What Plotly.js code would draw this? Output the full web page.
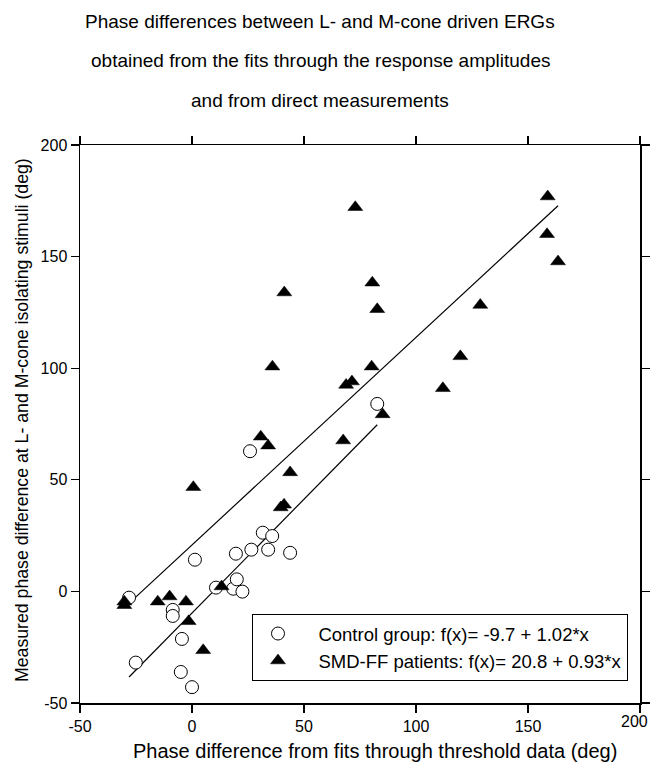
<!DOCTYPE html>
<html>
<head>
<meta charset="utf-8">
<script src="https://cdn.plot.ly/plotly-3.0.1.min.js"></script>
<style>
  html, body { margin: 0; padding: 0; background: #fff; }
  #chart { width: 651px; height: 769px; }
</style>
</head>
<body>
<div id="chart"></div>
<script>
// Control group: phase difference from threshold fits (x) vs. measured (y), deg
const controlX = [-28.1, -25.1, -8.6, -8.6, -4.5, -5.0, 0.0, 1.3, 10.7, 18.4,
                  20.0, 22.5, 19.6, 26.5, 25.9, 31.6, 34.0, 35.8, 43.8, 82.7];
const controlY = [-2.8, -31.9, -8.3, -11.0, -21.3, -36.1, -42.9, 14.2, 1.7, 1.2,
                  5.4, -0.1, 16.9, 18.7, 62.8, 26.3, 18.7, 24.8, 17.3, 84.0];

// SMD-FF patients
const patientX = [-30.2, -30.2, -15.3, -10.0, -2.7, -1.5, 5.0, 0.6, 13.2, 30.7,
                  34.0, 39.6, 41.1, 43.8, 35.9, 41.2, 67.5, 68.8, 71.4, 72.9,
                  80.2, 80.5, 82.7, 85.1, 112.0, 119.8, 128.7, 158.8, 158.5, 163.4];
const patientY = [-4.6, -6.2, -4.6, -2.3, -4.6, -13.4, -26.4, 46.7, 2.2, 69.3,
                  65.3, 37.6, 38.8, 53.3, 100.7, 133.9, 67.6, 92.5, 94.0, 172.1,
                  100.7, 138.3, 126.4, 79.3, 91.0, 105.3, 128.3, 176.9, 160.0, 147.8];

// Linear fits f(x) = a + b*x
const groupNames   = ['Control group', 'SMD-FF patients'];
const fitIntercept = [-9.7, 20.8];
const fitSlope     = [1.02, 0.93];

// Axis ticks
const xTicks = [-50, 0, 50, 100, 150, 200];
const yTicks = [-50, 0, 50, 100, 150, 200];

const NBSP = '\u00a0';

function fitLine(xs, a, b) {
  const lo = Math.min(...xs), hi = Math.max(...xs);
  return { x: [lo, hi], y: [a + b * lo, a + b * hi] };
}

const lineCtrl = fitLine(controlX, fitIntercept[0], fitSlope[0]);
const linePat  = fitLine(patientX, fitIntercept[1], fitSlope[1]);

// legend entry text, with a small gap after the symbol
function label(i) {
  return NBSP.repeat(3) + groupNames[i] + ': f(x)= ' + fitIntercept[i].toFixed(1) +
         ' + ' + fitSlope[i].toFixed(2) + '*x';
}

const FONT = 'Liberation Sans, Arial, Helvetica, sans-serif';
const TICK_SIZE = 16;

const traces = [
  { x: lineCtrl.x, y: lineCtrl.y, mode: 'lines', showlegend: false,
    line: { color: '#000', width: 1.2 }, hoverinfo: 'skip' },
  { x: linePat.x, y: linePat.y, mode: 'lines', showlegend: false,
    line: { color: '#000', width: 1.2 }, hoverinfo: 'skip' },
  { x: controlX, y: controlY, mode: 'markers', name: label(0),
    marker: { symbol: 'circle', size: 13, color: '#fff',
              line: { color: '#000', width: 1 } } },
  { x: patientX, y: patientY, mode: 'markers', name: label(1),
    marker: { symbol: 'triangle-up', size: 13, color: '#000',
              line: { color: '#000', width: 0.5 } } }
];

const axisCommon = {
  showgrid: false, zeroline: false,
  showline: true, linecolor: '#000', linewidth: 1.5,
  mirror: 'ticks', ticks: 'outside', ticklen: 8, tickwidth: 1.2,
  tickcolor: '#000', tickfont: { family: FONT, size: TICK_SIZE, color: '#000' },
  tickmode: 'array'
};

// Plot area spans 80..640 px horizontally and 145..703 px vertically
const L = 80, T = 145, W = 560, H = 558;
const px = v => (v - L) / W;
const py = v => (T + H - v) / H;

const titleLines = [
  'Phase differences between L- and M-cone driven ERGs',
  'obtained from the fits through the response amplitudes',
  'and from direct measurements'
];
const titleY = [22, 61, 100];

const annotations = titleLines.map((t, i) => ({
  text: t, xref: 'paper', yref: 'paper', x: px(320), y: py(titleY[i]),
  xanchor: 'center', yanchor: 'middle', showarrow: false,
  font: { family: FONT, size: 19, color: '#000' }
}));

annotations.push({
  text: 'Phase difference from fits through threshold data (deg)',
  xref: 'paper', yref: 'paper', x: px(375), y: py(751),
  xanchor: 'center', yanchor: 'middle', showarrow: false,
  font: { family: FONT, size: 20, color: '#000' }
});
annotations.push({
  text: 'Measured phase difference at L- and M-cone isolating stimuli (deg)',
  xref: 'paper', yref: 'paper', x: px(22), y: py(420), textangle: -90,
  xanchor: 'center', yanchor: 'middle', showarrow: false,
  font: { family: FONT, size: 17.7, color: '#000' }
});

// the last x label would cross the right edge of the figure,
// so it is right-aligned against the edge instead of centred on its tick
const lastX = xTicks[xTicks.length - 1];
const xTickText = xTicks.map(v => v === lastX ? '' : String(v));
annotations.push({
  text: String(lastX), xref: 'paper', yref: 'paper',
  x: px(650), y: py(721), xanchor: 'right', yanchor: 'middle', showarrow: false,
  font: { family: FONT, size: TICK_SIZE, color: '#000' }
});

const layout = {
  width: 651, height: 769,
  margin: { l: L, r: 651 - L - W, t: T, b: 769 - T - H, pad: 0 },
  paper_bgcolor: '#fff', plot_bgcolor: '#fff',
  font: { family: FONT, color: '#000' },
  xaxis: Object.assign({}, axisCommon, {
    range: [-50, 200], tickvals: xTicks, ticktext: xTickText
  }),
  yaxis: Object.assign({}, axisCommon, {
    range: [-50, 200], tickvals: yTicks, ticktext: yTicks.map(String)
  }),
  showlegend: true,
  legend: {
    x: px(252), y: py(614), xanchor: 'left', yanchor: 'top',
    bgcolor: '#fff', bordercolor: '#000', borderwidth: 1,
    font: { family: FONT, size: 18.5, color: '#000' },
    itemwidth: 40, tracegroupgap: 0
  },
  annotations: annotations
};

Plotly.newPlot('chart', traces, layout, { staticPlot: true, displayModeBar: false });
</script>
</body>
</html>
